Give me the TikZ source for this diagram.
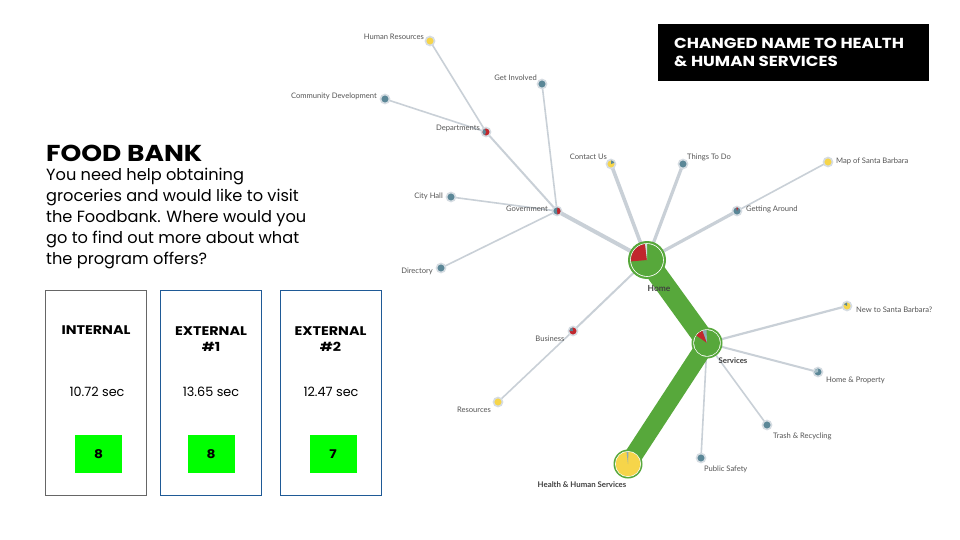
\documentclass[tikz,border=0pt]{standalone}
\usepackage{fontspec}
\setmainfont{Poppins}
\newfontfamily\wide[FakeStretch=1.15]{Poppins}
\newfontfamily\lab{Lato}
\usetikzlibrary{backgrounds}
\definecolor{edgec}{HTML}{C9D0D7}
\definecolor{ringc}{HTML}{D5DCE2}
\definecolor{bluec}{HTML}{5B8797}
\definecolor{yelc}{HTML}{F6D54A}
\definecolor{redc}{HTML}{C1272D}
\definecolor{grn}{HTML}{57A83B}
\definecolor{labc}{HTML}{555555}
\definecolor{boxblue}{HTML}{1F5A96}
\tikzset{
  dot/.style={circle, fill=#1, draw=ringc, line width=1.6pt, minimum size=9pt, inner sep=0pt},
  lbl/.style={font=\lab\fontsize{7.6}{8}\selectfont, text=labc, inner sep=0pt},
  blbl/.style={font=\lab\bfseries\fontsize{7.8}{8}\selectfont, text=black!75, inner sep=0pt},
  edge/.style={draw=edgec, line width=1.6pt},
  tedge/.style={draw=edgec, line width=3.2pt},
  gedge/.style={draw=grn, line width=#1},
  card/.style={draw=#1, line width=1pt, minimum width=101pt, minimum height=205pt, inner sep=0pt},
  score/.style={fill=green, minimum width=47pt, minimum height=38pt, inner sep=0pt, font=\wide\bfseries\fontsize{12}{14}\selectfont},
  head/.style={font=\wide\bfseries\fontsize{12.5}{16}\selectfont, align=center, inner sep=0pt},
  sec/.style={font=\fontsize{12.8}{15}\selectfont, inner sep=0pt},
  big/.style={circle, fill=grn, minimum size=#1, inner sep=0pt}
}
\begin{document}
\begin{tikzpicture}[x=1pt,y=-1pt]
\useasboundingbox (0,0) rectangle (960,540);

% left text
\node[anchor=base west, inner sep=0pt, font=\wide\bfseries\fontsize{23}{26}\selectfont] (title) at (46,162) {FOOD BANK};
\node[anchor=north west, inner sep=0pt, align=left, font=\fontsize{16.2}{21}\selectfont] (body) at (46,168)
 {You need help obtaining\\groceries and would like to visit\\the Foodbank. Where would you\\go to find out more about what\\the program offers?};

% cards
\node[card=black!60] (c1) at (96,392.5) {};
\node[card=boxblue] (c2) at (211,392.5) {};
\node[card=boxblue] (c3) at (330.5,392.5) {};
\node[head] (h1) at (96,330) {INTERNAL};
\node[head] (h2) at (211,339) {EXTERNAL\\\#1};
\node[head] (h3) at (330.5,339) {EXTERNAL\\\#2};
\node[sec] (s1) at (97,392) {10.72 sec};
\node[sec] (s2) at (211,392) {13.65 sec};
\node[sec] (s3) at (331,392) {12.47 sec};
\node[score] (g1) at (98.5,454) {8};
\node[score] (g2) at (211,454) {8};
\node[score] (g3) at (333,454) {7};

% black note
\node[fill=black, text=white, minimum width=271pt, minimum height=57pt, inner sep=0pt] (note) at (793.5,52.5) {};
\node[anchor=west, text=white, align=left, inner sep=0pt, font=\wide\bfseries\fontsize{14.5}{18}\selectfont] (notet) at (674,52) {CHANGED NAME TO HEALTH\\\& HUMAN SERVICES};

% graph nodes
\node[big=38pt] (home) at (647,260) {};
\fill[white] (home.center) circle (16.8pt);
\fill[grn] (home.center) circle (16pt);
\fill[redc] (home.center) -- ++(97:16pt) arc (97:185:16pt) -- cycle;
\fill[ringc] (home.center) -- ++(90:16pt) arc (90:97:16pt) -- cycle;

\node[big=31pt] (serv) at (707,343) {};
\fill[white] (serv.center) circle (13.7pt);
\fill[grn] (serv.center) circle (13pt);
\fill[redc] (serv.center) -- ++(110:13pt) arc (110:145:13pt) -- cycle;
\fill[bluec!70] (serv.center) -- ++(92:13pt) arc (92:110:13pt) -- cycle;

\node[big=29pt] (hhs) at (628,464) {};
\fill[white] (hhs.center) circle (13pt);
\fill[yelc] (hhs.center) circle (12.3pt);
\fill[bluec!70] (hhs.center) -- ++(88:12.3pt) arc (88:97:12.3pt) -- cycle;

\node[dot=yelc] (hr) at (430,41) {};
\node[dot=bluec] (gi) at (542,84) {};
\node[dot=bluec] (cd) at (385,99) {};
\node[dot=redc] (dep) at (486,132) {};
\fill[bluec] (dep.center) -- ++(110:3.5pt) arc (110:250:3.5pt) -- cycle;
\node[dot=bluec] (ch) at (451,197) {};
\node[dot=bluec] (gov) at (557,211) {};
\fill[redc] (gov.center) -- ++(80:3.6pt) arc (80:-80:3.6pt) -- cycle;
\node[dot=bluec] (dir) at (441,268) {};
\node[dot=yelc] (cu) at (611,164) {};
\fill[bluec] (cu.center) -- ++(90:3.5pt) arc (90:20:3.5pt) -- cycle;
\node[dot=bluec] (ttd) at (683,164) {};
\node[dot=yelc] (map) at (828,162) {};
\node[dot=bluec] (ga) at (737,211) {};
\fill[redc] (ga.center) -- ++(70:3.5pt) arc (70:100:3.5pt) -- cycle;
\node[dot=redc] (bus) at (573,331) {};
\fill[bluec] (bus.center) -- ++(100:3.5pt) arc (100:180:3.5pt) -- cycle;
\node[dot=yelc] (res) at (498,402) {};
\node[dot=yelc] (nsb) at (847,306) {};
\fill[bluec] (nsb.center) -- ++(90:3.5pt) arc (90:150:3.5pt) -- cycle;
\node[dot=bluec] (hp) at (818,372) {};
\fill[bluec!55] (hp.center) -- ++(90:3.5pt) arc (90:200:3.5pt) -- cycle;
\node[dot=bluec] (tr) at (767,425) {};
\node[dot=bluec] (ps) at (701,458) {};

% labels
\node[lbl, anchor=east] (lhr) at (424,37) {Human Resources};
\node[lbl, anchor=east] (lgi) at (537,78) {Get Involved};
\node[lbl, anchor=east] (lcd) at (377,96) {Community Development};
\node[lbl, anchor=east] (ldep) at (480,128) {Departments};
\node[lbl, anchor=east] (lch) at (443,196) {City Hall};
\node[lbl, anchor=east] (lgov) at (548,209) {Government};
\node[lbl, anchor=east] (ldir) at (433,271) {Directory};
\node[lbl, anchor=east] (lcu) at (607,157) {Contact Us};
\node[lbl, anchor=west] (lttd) at (687,157) {Things To Do};
\node[lbl, anchor=west] (lmap) at (836,161) {Map of Santa Barbara};
\node[lbl, anchor=west] (lga) at (746,209) {Getting Around};
\node[lbl] (lbus) at (550,339) {Business};
\node[lbl] (lres) at (474,410) {Resources};
\node[lbl, anchor=west] (lnsb) at (856,310) {New to Santa Barbara?};
\node[lbl, anchor=west] (lhp) at (826,380) {Home \& Property};
\node[lbl, anchor=west] (ltr) at (773,436) {Trash \& Recycling};
\node[lbl, anchor=west] (lps) at (704,469) {Public Safety};
\node[blbl, font=\lab\bfseries\fontsize{8.4}{9}\selectfont] (lhome) at (659,288) {Home};
\node[blbl] (lserv) at (733,361) {Services};
\node[blbl] (lhhs) at (582,485) {Health \& Human Services};

% edges
\begin{pgfonlayer}{background}
\fill[white] (0,0) rectangle (960,540);
\draw[edge] (hr.center) -- (dep.center);
\draw[edge] (cd.center) -- (dep.center);
\draw[edge, line width=2pt] (dep.center) -- (gov.center);
\draw[edge] (gi.center) -- (gov.center);
\draw[edge] (ch.center) -- (gov.center);
\draw[edge] (dir.center) -- (gov.center);
\draw[tedge, line width=4pt] (gov.center) -- (home.center);
\draw[tedge, line width=3.6pt] (cu.center) -- (home.center);
\draw[tedge] (ttd.center) -- (home.center);
\draw[tedge] (ga.center) -- (home.center);
\draw[edge] (map.center) -- (ga.center);
\draw[edge, line width=2pt] (bus.center) -- (home.center);
\draw[edge] (res.center) -- (bus.center);
\draw[edge, line width=2.2pt] (serv.center) -- (nsb.center);
\draw[edge, line width=2pt] (serv.center) -- (hp.center);
\draw[edge] (serv.center) -- (tr.center);
\draw[edge] (serv.center) -- (ps.center);
\draw[gedge=20pt] (home.center) -- (serv.center);
\draw[gedge=18pt] (serv.center) -- (hhs.center);
\end{pgfonlayer}
\end{tikzpicture}
\end{document}
